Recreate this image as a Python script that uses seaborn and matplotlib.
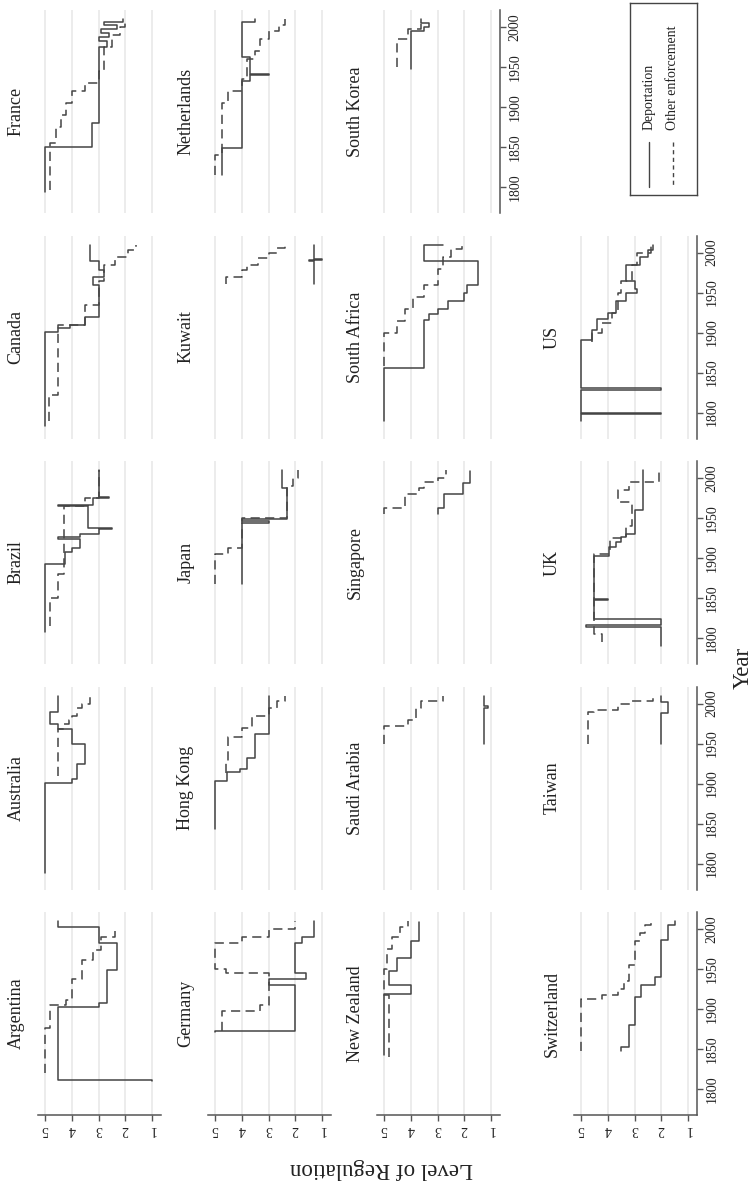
import matplotlib
matplotlib.use("Agg")
import matplotlib.pyplot as plt
import seaborn as sns

# step data as (year, level); level holds from that year until the next entry
france_dep = [(1794, 5), (1850, 3.25), (1880, 3.0), (1975, 2.7), (1982, 3.0), (1987, 2.6),
              (1993, 2.9), (1998, 2.3), (2003, 2.8), (2006, 2.1), (2010, 2.1)]
france_oth = [(1796, 4.8), (1855, 4.6), (1875, 4.4), (1890, 4.2), (1905, 4.0), (1920, 3.5),
              (1930, 3.0), (1945, 2.8), (1975, 2.5), (1990, 2.2), (2000, 2.0), (2010, 2.0)]
canada_dep = [(1783, 5), (1901, 4.5), (1906, 4.05), (1910, 3.5), (1920, 3.0), (1960, 3.2),
              (1970, 2.8), (1978, 3.0), (1990, 3.3), (2010, 3.3)]
canada_oth = [(1790, 4.85), (1822, 4.5), (1910, 3.5), (1935, 3.0), (1965, 2.8), (1985, 2.4),
              (1995, 1.9), (2003, 1.6), (2010, 1.6)]
brazil_dep = [(1808, 5), (1893, 4.25), (1908, 4.0), (1913, 3.7), (1924, 4.5), (1926, 3.7),
              (1930, 3.0), (1936, 2.5), (1937, 3.4), (1965, 4.5), (1966, 3.2), (1975, 2.6),
              (1976, 3.0), (2010, 3.0)]
brazil_oth = [(1815, 4.8), (1850, 4.5), (1880, 4.3), (1965, 3.5), (1975, 3.0), (2010, 3.0)]
australia_dep = [(1788, 5), (1901, 4.0), (1906, 3.8), (1925, 3.5), (1950, 4.0), (1968, 4.5),
                 (1975, 4.8), (1990, 4.5), (2010, 4.5)]
australia_oth = [(1910, 4.5), (1968, 4.3), (1975, 4.1), (1980, 4.0), (1985, 3.8), (1995, 3.6),
                 (2000, 3.3), (2010, 3.3)]
argentina_dep = [(1810, 1), (1811, 4.5), (1902, 3.0), (1908, 2.7), (1949, 2.3), (1982, 3.0),
                 (2002, 4.5), (2010, 4.5)]
argentina_oth = [(1820, 5), (1876, 4.8), (1905, 4.2), (1911, 4.0), (1938, 3.6), (1961, 3.2),
                 (1974, 2.9), (1990, 2.4), (1998, 2.4)]
netherlands_dep = [(1815, 4.75), (1849, 4.0), (1932, 3.7), (1940, 3.0), (1941, 3.7), (1963, 4.0),
                   (2006, 3.5), (2010, 3.5)]
netherlands_oth = [(1815, 5), (1840, 4.75), (1905, 4.5), (1920, 4.0), (1935, 3.8), (1960, 3.5),
                   (1970, 3.3), (1985, 3.0), (1995, 2.6), (2003, 2.4), (2010, 2.4)]
kuwait_dep = [(1961, 1.3), (1990, 1.5), (1991, 1.0), (1992, 1.3), (2010, 1.3)]
kuwait_oth = [(1961, 4.6), (1970, 4.0), (1978, 3.8), (1985, 3.4), (1993, 3.0), (2000, 2.7),
              (2006, 2.4), (2010, 2.4)]
japan_dep = [(1868, 4), (1944, 3.0), (1946, 4.0), (1949, 2.3), (1988, 2.5), (2010, 2.5)]
japan_oth = [(1868, 5), (1905, 4.5), (1912, 4.0), (1950, 2.3), (1990, 2.1), (2000, 1.9), (2010, 1.9)]
hongkong_dep = [(1843, 5), (1903, 4.55), (1914, 4.05), (1918, 3.8), (1932, 3.5), (1962, 3.0),
                (2010, 3.0)]
hongkong_oth = [(1913, 4.6), (1928, 4.5), (1958, 4.0), (1970, 3.6), (1985, 3.0), (1995, 2.7),
                (2003, 2.4), (2010, 2.4)]
germany_dep = [(1871, 5), (1872, 2.0), (1930, 3.0), (1938, 1.6), (1945, 2.0), (1982, 1.75),
               (1990, 1.3), (2010, 1.3)]
germany_oth = [(1873, 4.75), (1897, 3.3), (1905, 3.0), (1945, 4.6), (1950, 5.0), (1983, 4.0),
               (1990, 3.0), (2000, 2.0), (2010, 2.0)]
skorea_dep = [(1948, 4.0), (1995, 3.5), (2000, 3.3), (2005, 3.6), (2010, 3.6)]
skorea_oth = [(1950, 4.5), (1985, 4.1), (1998, 3.6), (2010, 3.6)]
safrica_dep = [(1789, 5), (1856, 3.5), (1916, 3.3), (1923, 3.0), (1930, 2.6), (1940, 2.0),
               (1950, 1.9), (1960, 1.5), (1990, 3.5), (2009, 2.8), (2010, 2.8)]
safrica_oth = [(1858, 5), (1900, 4.5), (1915, 4.2), (1930, 3.9), (1945, 3.5), (1960, 3.0),
               (1980, 2.8), (1995, 2.5), (2005, 2.1), (2010, 2.1)]
singapore_dep = [(1955, 3.0), (1963, 2.75), (1980, 2.05), (1994, 1.8), (2009, 1.8)]
singapore_oth = [(1955, 5.0), (1963, 4.2), (1980, 3.7), (1987, 3.5), (1995, 3.0), (2000, 2.7),
                 (2010, 2.7)]
saudi_dep = [(1950, 1.25), (1995, 1.1), (1997, 1.25), (2010, 1.25)]
saudi_oth = [(1950, 5), (1972, 4.1), (1980, 3.8), (1995, 3.6), (2003, 2.8), (2010, 2.8)]
nz_dep = [(1842, 5), (1919, 4.0), (1930, 4.8), (1947, 4.5), (1964, 4.0), (1985, 3.7), (2009, 3.7)]
nz_oth = [(1840, 4.8), (1918, 5.0), (1950, 4.9), (1975, 4.7), (1990, 4.4), (2003, 4.1), (2010, 4.1)]
us_dep = [(1790, 5), (1798, 2), (1800, 5), (1828, 2), (1831, 5), (1891, 4.6), (1903, 4.4),
          (1917, 4.0), (1924, 3.7), (1940, 3.3), (1950, 2.9), (1955, 3.0), (1965, 3.3),
          (1985, 2.8), (1995, 2.5), (2003, 2.3), (2010, 2.3)]
us_oth = [(1888, 4.6), (1900, 4.2), (1912, 3.85), (1925, 3.6), (1950, 3.5), (1965, 3.1),
          (1985, 2.9), (2000, 2.4), (2010, 2.4)]
uk_dep = [(1790, 2.0), (1814, 4.8), (1816, 2.0), (1824, 4.5), (1848, 4.0), (1849, 4.5),
          (1902, 3.95), (1914, 3.7), (1920, 3.5), (1926, 3.3), (1930, 3.0), (1960, 2.7), (2010, 2.7)]
uk_oth = [(1795, 4.2), (1805, 4.5), (1905, 3.9), (1925, 3.3), (1940, 3.1), (1970, 3.6),
          (1985, 3.2), (1995, 2.1), (2010, 2.1)]
taiwan_dep = [(1949, 2.0), (1988, 1.75), (2002, 2.0), (2010, 2.0)]
taiwan_oth = [(1949, 4.75), (1990, 4.5), (1992, 3.6), (2000, 3.1), (2003, 2.3), (2010, 2.3)]
swiss_dep = [(1848, 3.5), (1852, 3.2), (1880, 3.0), (1915, 2.75), (1930, 2.25), (1940, 2.0),
             (1986, 1.75), (2005, 1.5), (2010, 1.5)]
swiss_oth = [(1848, 5), (1913, 4.2), (1918, 3.6), (1925, 3.4), (1935, 3.2), (1955, 3.0),
             (1985, 2.8), (1995, 2.6), (2005, 2.4), (2010, 2.4)]

series = {
    "France": (france_dep, france_oth), "Canada": (canada_dep, canada_oth),
    "Brazil": (brazil_dep, brazil_oth), "Australia": (australia_dep, australia_oth),
    "Argentina": (argentina_dep, argentina_oth), "Netherlands": (netherlands_dep, netherlands_oth),
    "Kuwait": (kuwait_dep, kuwait_oth), "Japan": (japan_dep, japan_oth),
    "Hong Kong": (hongkong_dep, hongkong_oth), "Germany": (germany_dep, germany_oth),
    "South Korea": (skorea_dep, skorea_oth), "South Africa": (safrica_dep, safrica_oth),
    "Singapore": (singapore_dep, singapore_oth), "Saudi Arabia": (saudi_dep, saudi_oth),
    "New Zealand": (nz_dep, nz_oth), "US": (us_dep, us_oth), "UK": (uk_dep, uk_oth),
    "Taiwan": (taiwan_dep, taiwan_oth), "Switzerland": (swiss_dep, swiss_oth),
}

# figure is rotated: each column of panels is one row of the original grid
columns = [
    ["France", "Canada", "Brazil", "Australia", "Argentina"],
    ["Netherlands", "Kuwait", "Japan", "Hong Kong", "Germany"],
    ["South Korea", "South Africa", "Singapore", "Saudi Arabia", "New Zealand"],
    [None, "US", "UK", "Taiwan", "Switzerland"],
]
level_ticks = [1, 2, 3, 4, 5]
year_ticks = [1800, 1850, 1900, 1950, 2000]

sns.set_style("white")
plt.rcParams["font.family"] = ["Liberation Serif", "DejaVu Serif"]

W, H = 754, 1196
fig = plt.figure(figsize=(W / 100, H / 100), dpi=100)
line_col = "#444444"
axis_col = "#555555"
col_x = [45, 215, 384, 581]          # x pixel of the level-5 gridline
row_y = [10, 235.5, 461, 686.5, 912]  # top pixel of each panel
pw, ph = 123, 203

for c, names in enumerate(columns):
    for r, name in enumerate(names):
        if name is None:
            continue
        top = row_y[r]
        ax = fig.add_axes([(col_x[c] - 7) / W, 1 - (top + ph) / H, pw / W, ph / H])
        dep, oth = series[name]
        for pts, ls in ((oth, (0, (6, 3.5))), (dep, "-")):
            sns.lineplot(x=[p[1] for p in pts], y=[p[0] for p in pts], orient="y",
                         sort=False, estimator=None, drawstyle="steps-pre",
                         color=line_col, lw=1.1, linestyle=ls, ax=ax)
        ax.set_xlim(5.262, 0.664)
        ax.set_ylim(1767.5, 2021.25)
        ax.set_xticks(level_ticks)
        ax.set_yticks(year_ticks)
        ax.set_xlabel("")
        ax.set_ylabel("")
        ax.grid(axis="x", color="#e9e9e9", lw=1.2)
        ax.grid(axis="y", visible=False)
        ax.set_axisbelow(True)
        for s in ax.spines.values():
            s.set_visible(False)
        ax.tick_params(left=False, labelleft=False, bottom=False, labelbottom=False,
                       right=False, labelright=False)
        if r == 4:
            ax.spines["bottom"].set_visible(True)
            ax.spines["bottom"].set_color(axis_col)
            ax.spines["bottom"].set_linewidth(1.1)
            ax.tick_params(axis="x", bottom=True, labelbottom=True, labelrotation=180,
                           length=4, width=1, color=axis_col, labelsize=10,
                           labelcolor="#222222", pad=2)
        if c == 3 or (c == 2 and r == 0):
            ax.spines["right"].set_visible(True)
            ax.spines["right"].set_color(axis_col)
            ax.spines["right"].set_linewidth(1.1)
            ax.yaxis.tick_right()
            ax.tick_params(axis="y", right=True, labelright=True, labelrotation=90,
                           length=4, width=1, color=axis_col, labelsize=10,
                           labelcolor="#222222", pad=2)
            for lab in ax.get_yticklabels():
                lab.set_va("center")
        fig.text((col_x[c] - 29) / W, 1 - (top + ph / 2) / H, name, rotation=90,
                 ha="center", va="center", fontsize=13, color="#222222")

# legend box
lx0, ly0, lx1, ly1 = 630, 3, 697, 195
lax = fig.add_axes([lx0 / W, 1 - ly1 / H, (lx1 - lx0) / W, (ly1 - ly0) / H])
lax.set_xlim(lx0, lx1)
lax.set_ylim(ly1, ly0)
lax.set_xticks([])
lax.set_yticks([])
for s in lax.spines.values():
    s.set_color("#444444")
    s.set_linewidth(1.0)
lax.plot([649, 649], [142, 187], color=line_col, lw=1.0)
lax.plot([673, 673], [142, 187], color=line_col, lw=1.0, linestyle=(0, (3, 2.5)))
lax.text(649, 130, "Deportation", rotation=90, ha="center", va="bottom", fontsize=10,
         color="#222222")
lax.text(673, 130, "Other enforcement", rotation=90, ha="center", va="bottom", fontsize=10,
         color="#222222")

fig.text(382 / W, 1 - 1168 / H, "Level of Regulation", rotation=180, ha="center",
         va="center", fontsize=16.5, color="#222222")
fig.text(743 / W, 1 - 668 / H, "Year", rotation=90, ha="center", va="center",
         fontsize=16.5, color="#222222")

fig.savefig("out.png", dpi=100)
